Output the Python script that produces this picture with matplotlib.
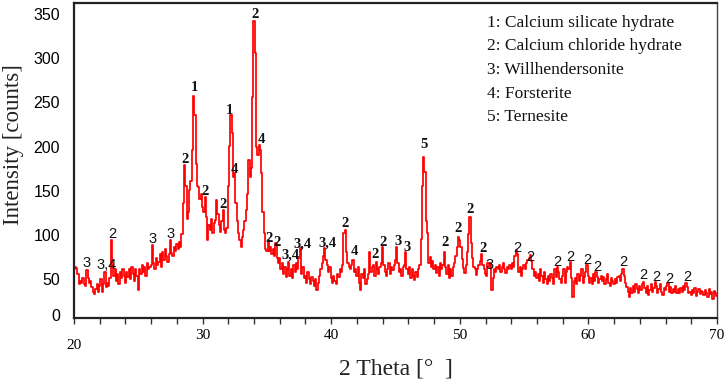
import numpy as np
import matplotlib
matplotlib.use("Agg")
import matplotlib.pyplot as plt
from matplotlib.transforms import ScaledTranslation
from matplotlib.ticker import MultipleLocator

# 2-theta grid: 20.0 .. 70.0 in 0.1 steps
two_theta = np.round(np.linspace(20.0, 70.0, 501), 1)

intensity = [
    55, 58, 57, 50, 38, 42, 40, 45, 38, 36,    # 20
    54, 45, 40, 42, 35, 30, 27, 33, 38, 29,    # 21
    36, 44, 30, 38, 52, 35, 40, 36, 45, 88,    # 22
    60, 48, 55, 42, 50, 38, 52, 45, 55, 48,    # 23
    40, 52, 46, 55, 44, 58, 50, 42, 56, 48,    # 24
    32, 55, 50, 60, 52, 58, 48, 62, 55, 58,    # 25
    60, 83, 62, 56, 68, 60, 64, 72, 58, 75,    # 26
    66, 78, 70, 64, 72, 88, 74, 70, 80, 76,    # 27
    84, 78, 86, 80, 95, 130, 173, 150, 112, 120,  # 28
    145, 155, 190, 252, 230, 175, 150, 148, 135, 140,  # 29
    126, 120, 137, 115, 88, 105, 100, 112, 96, 108,  # 30
    111, 134, 118, 105, 98, 110, 122, 100, 96, 102,  # 31
    150, 195, 230, 210, 160, 164, 130, 110, 96, 88,  # 32
    81, 92, 100, 110, 122, 140, 179, 160, 170, 250,  # 33
    337, 300, 194, 185, 196, 190, 164, 120, 96, 78,  # 34
    76, 88, 76, 80, 72, 78, 70, 85, 68, 62,    # 35
    68, 55, 62, 50, 58, 46, 55, 63, 48, 56,    # 36
    45, 60, 52, 62, 55, 68, 79, 50, 58, 45,    # 37
    48, 40, 52, 44, 38, 46, 42, 36, 44, 32,    # 38
    40, 48, 55, 62, 70, 79, 66, 60, 52, 58,    # 39
    45, 40, 48, 42, 38, 50, 46, 55, 52, 60,    # 40
    96, 100, 75, 62, 58, 55, 60, 66, 52, 55,   # 41
    48, 58, 40, 32, 50, 45, 55, 38, 44, 50,    # 42
    75, 52, 58, 60, 48, 63, 55, 50, 58, 62,    # 43
    81, 60, 52, 48, 55, 62, 50, 58, 54, 60,    # 44
    66, 81, 62, 52, 56, 48, 58, 60, 75, 55,    # 45
    50, 58, 45, 55, 48, 43, 52, 46, 55, 60,    # 46
    90, 150, 183, 165, 110, 96, 62, 69, 58, 65,  # 47
    55, 60, 51, 58, 48, 62, 55, 60, 75, 58,    # 48
    50, 60, 45, 55, 48, 58, 62, 70, 80, 92,    # 49
    88, 80, 67, 57, 51, 60, 75, 95, 114, 85,   # 50
    68, 58, 55, 49, 55, 60, 65, 73, 60, 55,    # 51
    50, 48, 62, 58, 62, 32, 45, 55, 52, 58,    # 52
    55, 60, 52, 58, 62, 55, 51, 58, 56, 60,    # 53
    55, 62, 58, 70, 77, 72, 52, 58, 48, 55,    # 54
    60, 55, 62, 66, 68, 71, 65, 55, 48, 52,    # 55
    45, 50, 42, 55, 48, 40, 52, 44, 38, 48,    # 56
    42, 50, 45, 38, 55, 46, 58, 52, 44, 40,    # 57
    48, 55, 40, 52, 58, 55, 64, 45, 24, 42,    # 58
    45, 38, 50, 42, 48, 55, 40, 46, 52, 60,    # 59
    48, 40, 45, 38, 50, 42, 52, 46, 40, 44,    # 60
    48, 42, 46, 38, 44, 50, 40, 36, 45, 42,    # 61
    38, 44, 40, 46, 48, 42, 50, 56, 48, 40,    # 62
    35, 30, 24, 34, 28, 36, 30, 38, 33, 28,    # 63
    36, 32, 38, 41, 34, 28, 36, 26, 32, 38,    # 64
    30, 34, 41, 36, 28, 33, 38, 30, 26, 34,    # 65
    32, 36, 40, 30, 35, 28, 33, 30, 36, 28,    # 66
    33, 28, 34, 30, 36, 32, 40, 35, 28, 30,    # 67
    26, 32, 28, 34, 25, 30, 33, 27, 31, 29,    # 68
    26, 32, 28, 24, 33, 27, 30, 22, 31, 28,    # 69
    25,                                        # 70
]

# peak labels: (2theta, label height, text)
label_x = [21.0, 22.5, 22.95, 26.1, 27.5, 28.6, 29.4, 30.2, 31.6, 32.1, 32.5,
           34.1, 34.6, 35.15, 35.8, 36.8, 37.8, 39.7, 41.1, 41.8, 43.4, 44.0,
           45.2, 45.9, 47.2, 48.85, 49.9, 50.8, 51.8, 52.35, 54.45, 55.5,
           57.6, 58.6, 59.9, 60.7, 62.7, 64.3, 65.25, 66.3, 67.7]
label_y = [62, 60, 95, 89, 95, 180, 261, 143, 129, 235, 168,
           344, 202, 90, 86, 71, 84, 85, 107, 75, 72, 86,
           87, 80, 197, 85, 102, 123, 79, 60, 79, 69,
           63, 69, 66, 58, 63, 49, 46, 44, 46]
label_txt = ["3", "3,4", "2", "3", "3", "2", "1", "2", "2", "1", "4",
             "2", "4", "2", "2", "3,4", "3,4", "3,4", "2", "4", "2", "2",
             "3", "3", "5", "2", "2", "2", "2", "3", "2", "2",
             "2", "2", "2", "2", "2", "2", "2", "2", "2"]

legend_lines = ["1: Calcium silicate hydrate",
                "2: Calcium chloride hydrate",
                "3: Willhendersonite",
                "4: Forsterite",
                "5: Ternesite"]

x_ticks = [20, 30, 40, 50, 60, 70]
y_ticks = [0, 50, 100, 150, 200, 250, 300, 350]

fig = plt.figure(figsize=(7.26, 3.86), dpi=100)
ax = fig.add_axes([74/726, 1-318/386, 643/726, 315/386])

ax.plot(two_theta, intensity, color="#ff0000", lw=1.25, drawstyle="steps-mid")

ax.set_xlim(20, 70)
ax.set_ylim(0, 357)
ax.set_xticks(x_ticks)
ax.xaxis.set_minor_locator(MultipleLocator(2))
ax.set_yticks(y_ticks)

ax.tick_params(axis="x", which="both", direction="out", length=4, width=1,
               color="#333333", pad=4, labelsize=11)
ax.tick_params(axis="y", length=0, pad=10, labelsize=11.5)
for lab in ax.get_xticklabels():
    lab.set_fontfamily("Liberation Serif")
for lab in ax.get_yticklabels():
    lab.set_fontfamily("Liberation Sans")

# offsets as in the reference
xl = ax.get_xticklabels()
xl[0].set_transform(xl[0].get_transform() + ScaledTranslation(0, -10/100, fig.dpi_scale_trans))
for i, lab in enumerate(ax.get_yticklabels()):
    dy = 3/100 if i == 0 else -5/100
    lab.set_transform(lab.get_transform() + ScaledTranslation(0, dy, fig.dpi_scale_trans))

for s in ["top", "left", "bottom"]:
    ax.spines[s].set_linewidth(1.6)
    ax.spines[s].set_color("#222222")
ax.spines["right"].set_linewidth(1.0)
ax.spines["right"].set_color("#444444")

for tx, ty, t in zip(label_x, label_y, label_txt):
    if tx < 28 or tx > 52:
        ax.text(tx, ty, t, ha="center", va="center", fontsize=10.5,
                family="Liberation Sans", color="#111111")
    else:
        ax.text(tx, ty, t, ha="center", va="center", fontsize=10.5,
                family="Liberation Serif", fontweight="bold", color="#111111")

leg_y = [0.937, 0.862, 0.787, 0.711, 0.638]
for yy, t in zip(leg_y, legend_lines):
    ax.text(0.642, yy, t, transform=ax.transAxes, ha="left", va="center",
            fontsize=12.5, family="Liberation Serif", color="#111111")

ax.set_xlabel("2 Theta [°  ]", fontsize=17, family="Liberation Serif", color="#222222")
ax.set_ylabel("Intensity [counts]", fontsize=16.5, family="Liberation Serif", color="#222222")
ax.xaxis.set_label_coords(0.5, -0.13)
ax.yaxis.set_label_coords(-0.078, 0.55)

fig.savefig("out.png", dpi=100)
